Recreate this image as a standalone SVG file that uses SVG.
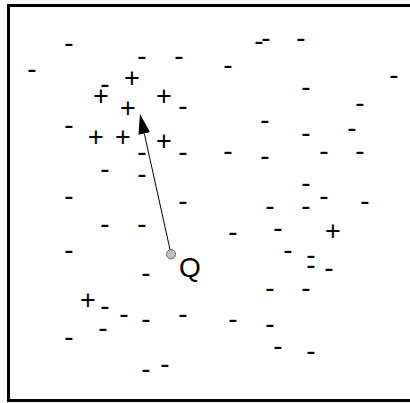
<svg xmlns="http://www.w3.org/2000/svg" width="410" height="403" viewBox="0 0 410 403">
<style>
.m{font-family:"Liberation Sans",Arial,sans-serif;font-size:28px;text-anchor:middle;fill:#000}
.p{font-family:"Liberation Sans",Arial,sans-serif;font-size:27px;text-anchor:middle;fill:#000}
.q{font-family:"Liberation Sans",Arial,sans-serif;font-size:28px;fill:#000}
</style>
<defs>
<marker id="ah" markerUnits="userSpaceOnUse" markerWidth="21" markerHeight="13" refX="0" refY="6" orient="auto">
<path d="M0,0 L20,6 L0,12 z" fill="#000"/>
</marker>
</defs>
<rect x="8.5" y="5.5" width="410" height="395" fill="#fff" stroke="#000" stroke-width="3"/>
<g id="negatives">
<text class="m" x="69" y="52">-</text>
<text class="m" x="32" y="78">-</text>
<text class="m" x="142" y="65">-</text>
<text class="m" x="179" y="65">-</text>
<text class="m" x="105" y="93">-</text>
<text class="m" x="183" y="115">-</text>
<text class="m" x="69" y="134">-</text>
<text class="m" x="142" y="161">-</text>
<text class="m" x="183" y="161">-</text>
<text class="m" x="105" y="178">-</text>
<text class="m" x="142" y="183">-</text>
<text class="m" x="69" y="205">-</text>
<text class="m" x="266" y="47">-</text>
<text class="m" x="259" y="50">-</text>
<text class="m" x="301" y="47">-</text>
<text class="m" x="228" y="74">-</text>
<text class="m" x="394" y="84">-</text>
<text class="m" x="306" y="96">-</text>
<text class="m" x="360" y="112">-</text>
<text class="m" x="265" y="129">-</text>
<text class="m" x="352" y="137">-</text>
<text class="m" x="306" y="142">-</text>
<text class="m" x="228" y="160">-</text>
<text class="m" x="265" y="165">-</text>
<text class="m" x="324" y="160">-</text>
<text class="m" x="360" y="160">-</text>
<text class="m" x="306" y="192">-</text>
<text class="m" x="324" y="205">-</text>
<text class="m" x="183" y="210">-</text>
<text class="m" x="105" y="233">-</text>
<text class="m" x="142" y="233">-</text>
<text class="m" x="69" y="259">-</text>
<text class="m" x="146" y="282">-</text>
<text class="m" x="105" y="315">-</text>
<text class="m" x="124" y="323">-</text>
<text class="m" x="146" y="328">-</text>
<text class="m" x="183" y="323">-</text>
<text class="m" x="103" y="337">-</text>
<text class="m" x="69" y="346">-</text>
<text class="m" x="146" y="378">-</text>
<text class="m" x="165" y="373">-</text>
<text class="m" x="365" y="210">-</text>
<text class="m" x="270" y="215">-</text>
<text class="m" x="306" y="215">-</text>
<text class="m" x="278" y="237">-</text>
<text class="m" x="233" y="241">-</text>
<text class="m" x="288" y="259">-</text>
<text class="m" x="311" y="264">-</text>
<text class="m" x="311" y="274">-</text>
<text class="m" x="329" y="277">-</text>
<text class="m" x="270" y="297">-</text>
<text class="m" x="306" y="297">-</text>
<text class="m" x="233" y="328">-</text>
<text class="m" x="270" y="333">-</text>
<text class="m" x="278" y="355">-</text>
<text class="m" x="311" y="360">-</text>
</g>
<g id="positives">
<text class="p" x="132" y="86.5">+</text>
<text class="p" x="101" y="104.5">+</text>
<text class="p" x="164" y="104.5">+</text>
<text class="p" x="128" y="116.5">+</text>
<text class="p" x="96" y="145.5">+</text>
<text class="p" x="123" y="145.5">+</text>
<text class="p" x="164" y="149.5">+</text>
<text class="p" x="88" y="308.5">+</text>
<text class="p" x="333" y="239.5">+</text>
</g>
<g id="connectors">
<line x1="171" y1="254" x2="144.3" y2="133.5" stroke="#000" stroke-width="1" marker-end="url(#ah)"/>
</g>
<g id="Q">
<circle cx="171" cy="254.3" r="4.6" fill="#c0c0c0" stroke="#707070" stroke-width="1"/>
<text class="q" x="179" y="277">Q</text>
</g>
</svg>
